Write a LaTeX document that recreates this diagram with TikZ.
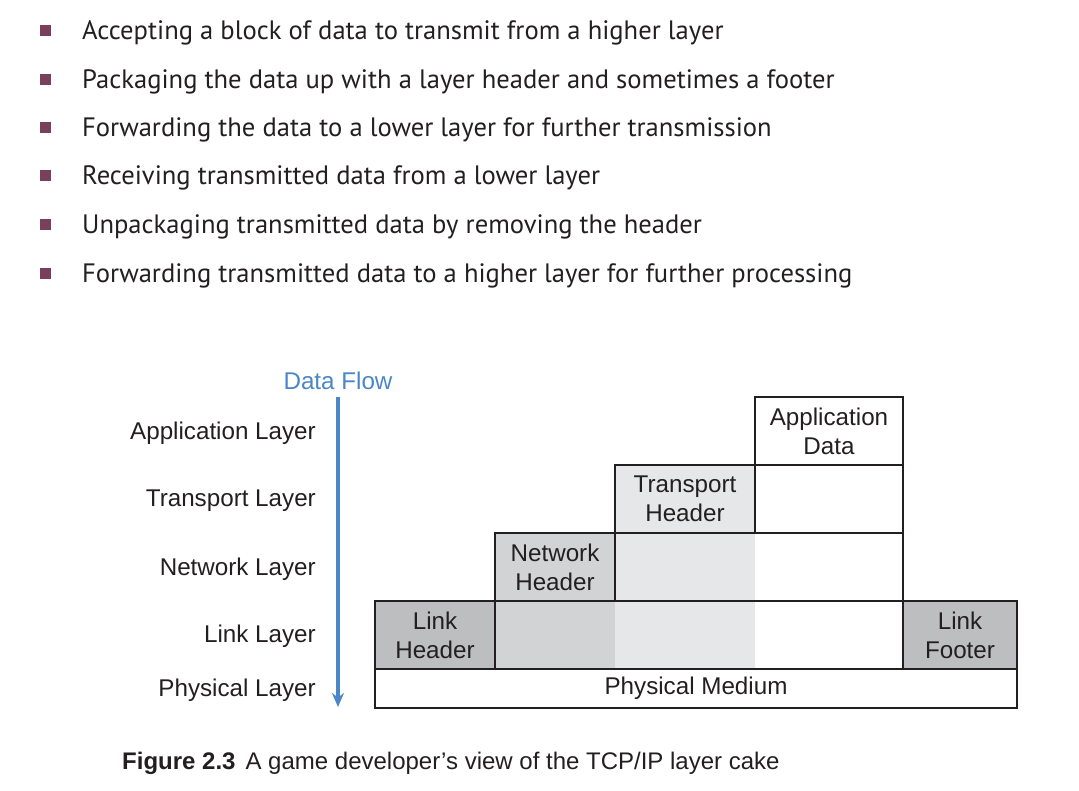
\documentclass[tikz,border=0pt]{standalone}
\usepackage{fontspec}
\setmainfont{Liberation Sans}
\newfontfamily\bulletfont{PT Sans}
\newfontfamily\capfont{Liberation Sans}
\usetikzlibrary{arrows.meta}
\definecolor{inkc}{HTML}{231F20}
\definecolor{bulletc}{HTML}{7B3F5E}
\definecolor{flowc}{HTML}{4A86C8}
\definecolor{darkg}{HTML}{BCBEC0}
\definecolor{midg}{HTML}{D1D3D4}
\definecolor{lightg}{HTML}{E6E7E8}
\begin{document}
\begin{tikzpicture}[x=1pt,y=-1pt,
  cell/.style={inner sep=0pt,outer sep=0pt,anchor=north west,align=center,
    font=\fontsize{24.2}{29}\selectfont,text=inkc},
  outline/.style={draw=inkc,line width=2.6pt},
  bullettext/.style={anchor=west,inner sep=0pt,font=\bulletfont\fontsize{26.6}{30}\selectfont,text=inkc},
  bulletmark/.style={fill=bulletc,minimum size=11pt,inner sep=0pt},
  layerlabel/.style={anchor=east,inner sep=0pt,font=\fontsize{24.2}{28}\selectfont,text=inkc}]
\useasboundingbox (0,0) rectangle (1079,791);
% bullet list
\foreach \i/\yy/\t in {1/31/Accepting a block of data to transmit from a higher layer,
  2/80/Packaging the data up with a layer header and sometimes a footer,
  3/128/Forwarding the data to a lower layer for further transmission,
  4/176/Receiving transmitted data from a lower layer,
  5/225/Unpackaging transmitted data by removing the header,
  6/274/Forwarding transmitted data to a higher layer for further processing}{
  \node[bulletmark] (m\i) at (45,\yy) {};
  \node[bullettext] (b\i) at (82,\yy+2) {\t};
}
% layer cake cells
\node[cell,minimum width=148pt,minimum height=68pt] (app) at (755,397) {Application\\Data};
\node[cell,fill=lightg,minimum width=140pt,minimum height=68pt] (tph) at (615,465) {Transport\\Header};
\node[cell,minimum width=148pt,minimum height=68pt] (tpd) at (755,465) {};
\node[cell,fill=midg,minimum width=120pt,minimum height=68pt] (nwh) at (495,533) {Network\\Header};
\node[cell,fill=lightg,minimum width=140pt,minimum height=68pt] (nwt) at (615,533) {};
\node[cell,minimum width=148pt,minimum height=68pt] (nwd) at (755,533) {};
\node[cell,fill=darkg,minimum width=120pt,minimum height=68pt] (lkh) at (375,601) {Link\\Header};
\node[cell,fill=midg,minimum width=120pt,minimum height=68pt] (lkn) at (495,601) {};
\node[cell,fill=lightg,minimum width=140pt,minimum height=68pt] (lkt) at (615,601) {};
\node[cell,minimum width=148pt,minimum height=68pt] (lkd) at (755,601) {};
\node[cell,fill=darkg,minimum width=114pt,minimum height=68pt] (lkf) at (903,601) {Link\\Footer};
\node[cell,minimum width=642pt,minimum height=39pt] (phy) at (375,669) {Physical Medium};
% outlines
\foreach \n in {app,tph,tpd,nwh,lkh,lkf,phy}{
  \draw[outline] (\n.north west) rectangle (\n.south east);
}
\draw[outline] (lkh.north east) -- (lkf.north west);
\draw[outline] (nwd.north east) -- (nwd.south east);
% data flow arrow
\node[inner sep=0pt,text=flowc,font=\fontsize{24.2}{28}\selectfont] (flow) at (338,381) {Data Flow};
\coordinate (ftop) at (338,397);
\coordinate (fbot) at (338,707);
\draw[flowc,line width=4pt,-{Stealth[length=14pt,width=12pt]}] (ftop) -- (fbot);
% layer labels
\node[layerlabel] (la) at (316,433) {Application Layer};
\node[layerlabel] (lt) at (316,501) {Transport Layer};
\node[layerlabel] (ln) at (316,569) {Network Layer};
\node[layerlabel] (ll) at (316,636) {Link Layer};
\node[layerlabel] (lp) at (316,690) {Physical Layer};
% caption
\node[anchor=west,inner sep=0pt,text=inkc,font=\capfont\fontsize{24}{28}\selectfont] (cap) at (122,763) {\textbf{Figure 2.3}\hspace{10pt}A game developer’s view of the TCP/IP layer cake};
\end{tikzpicture}
\end{document}
